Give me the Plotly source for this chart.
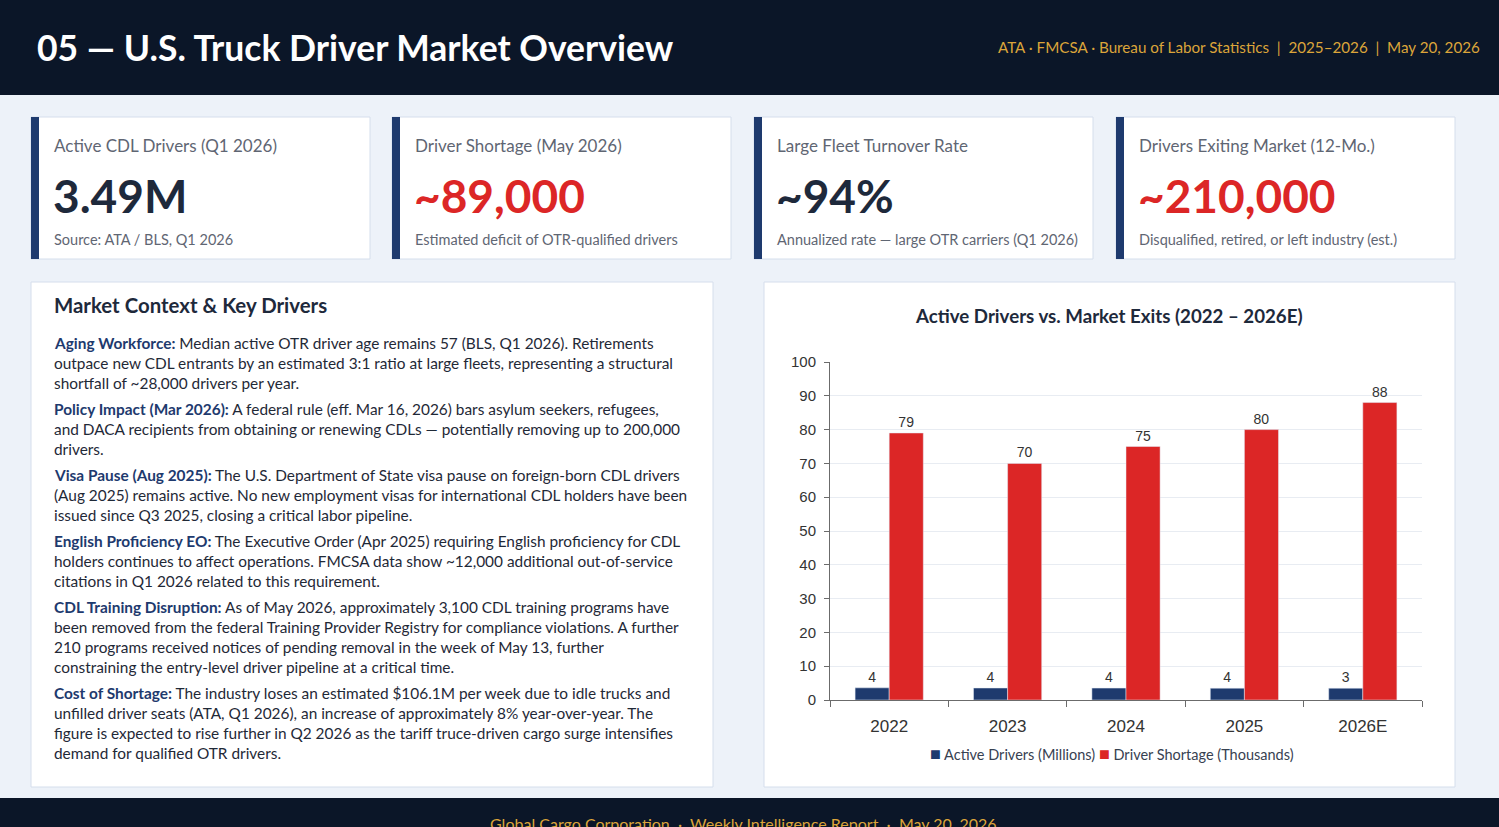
import plotly.graph_objects as go

W, H = 1499, 827

# ---- data -------------------------------------------------------------
years = ["2022", "2023", "2024", "2025", "2026E"]
active_drivers_m = [3.6, 3.55, 3.52, 3.5, 3.49]
driver_shortage_k = [79, 70, 75, 80, 88]
series_names = ["Active Drivers (Millions)", "Driver Shortage (Thousands)"]

kpi_labels = ["Active CDL Drivers (Q1 2026)", "Driver Shortage (May 2026)",
              "Large Fleet Turnover Rate", "Drivers Exiting Market (12-Mo.)"]
kpi_values = ["3.49M", "~89,000", "~94%", "~210,000"]
kpi_notes = ["Source: ATA / BLS, Q1 2026",
             "Estimated deficit of OTR-qualified drivers",
             "Annualized rate — large OTR carriers (Q1 2026)",
             "Disqualified, retired, or left industry (est.)"]

context_items = [
    ("Aging Workforce:", [
        " Median active OTR driver age remains 57 (BLS, Q1 2026). Retirements",
        "outpace new CDL entrants by an estimated 3:1 ratio at large fleets, representing a structural",
        "shortfall of ~28,000 drivers per year."]),
    ("Policy Impact (Mar 2026):", [
        " A federal rule (eff. Mar 16, 2026) bars asylum seekers, refugees,",
        "and DACA recipients from obtaining or renewing CDLs — potentially removing up to 200,000",
        "drivers."]),
    ("Visa Pause (Aug 2025):", [
        " The U.S. Department of State visa pause on foreign-born CDL drivers",
        "(Aug 2025) remains active. No new employment visas for international CDL holders have been",
        "issued since Q3 2025, closing a critical labor pipeline."]),
    ("English Proficiency EO:", [
        " The Executive Order (Apr 2025) requiring English proficiency for CDL",
        "holders continues to affect operations. FMCSA data show ~12,000 additional out-of-service",
        "citations in Q1 2026 related to this requirement."]),
    ("CDL Training Disruption:", [
        " As of May 2026, approximately 3,100 CDL training programs have",
        "been removed from the federal Training Provider Registry for compliance violations. A further",
        "210 programs received notices of pending removal in the week of May 13, further",
        "constraining the entry-level driver pipeline at a critical time."]),
    ("Cost of Shortage:", [
        " The industry loses an estimated $106.1M per week due to idle trucks and",
        "unfilled driver seats (ATA, Q1 2026), an increase of approximately 8% year-over-year. The",
        "figure is expected to rise further in Q2 2026 as the tariff truce-driven cargo surge intensifies",
        "demand for qualified OTR drivers."]),
]

# ---- styles -----------------------------------------------------------
NAVY_BG = "#0b1628"
GOLD = "#dca53a"
PAGE_BG = "#edf2f9"
CARD_LINE = "#d5deec"
ACCENT = "#1e3a6e"
RED = "#dc2626"
INK = "#1e293b"
MUTED = "#5f6673"
kpi_value_colors = [INK, RED, INK, RED]
bar_colors = [ACCENT, RED]


def px(x):
    return x / W


def py(y):
    return 1 - y / H


def rect(x0, y0, x1, y1, fill, line=None):
    return dict(type="rect", xref="paper", yref="paper", layer="below",
                x0=px(x0), x1=px(x1), y0=py(y1), y1=py(y0),
                fillcolor=fill, line=dict(width=1 if line else 0, color=line or fill))


def note(x, y, text, size, color, anchor="left", bold=False, family="Lato"):
    # annotations carry ~2px of border padding; nudge so the glyphs land on x
    nudge = {"left": -2, "right": 2, "center": 0}[anchor]
    return dict(xref="paper", yref="paper", x=px(x + nudge), y=py(y), xanchor=anchor, yanchor="middle",
                text=f"<b>{text}</b>" if bold else text, showarrow=False,
                font=dict(size=size, color=color, family=family))


shapes = []
annotations = []

# header / footer bands
shapes.append(rect(0, 0, W, 95, NAVY_BG))
shapes.append(rect(0, 798, W, H, NAVY_BG))
annotations.append(note(37, 47, "05 — U.S. Truck Driver Market Overview", 35.5, "#ffffff", bold=True))
annotations.append(note(1480, 47, "ATA · FMCSA · Bureau of Labor Statistics  |  2025–2026  |  May 20, 2026",
                        15.2, GOLD, anchor="right"))
annotations.append(dict(xref="paper", yref="paper", x=px(743), y=py(812), xanchor="center", yanchor="top",
                        text="Global Cargo Corporation  ·  Weekly Intelligence Report  ·  May 20, 2026",
                        showarrow=False, font=dict(size=16, color=GOLD, family="Lato")))

# KPI cards
card_left = [31, 392, 754, 1116]
for i, left in enumerate(card_left):
    shapes.append(rect(left, 117, left + 339, 259, "#ffffff", CARD_LINE))
    shapes.append(rect(left, 117, left + 8, 259, ACCENT))
    annotations.append(note(left + 23, 145, kpi_labels[i], 17, MUTED))
    annotations.append(note(left + 22, 195, kpi_values[i], 46, kpi_value_colors[i], bold=True))
    annotations.append(note(left + 23, 240, kpi_notes[i], 14.5, MUTED))

# context panel
shapes.append(rect(31, 282, 713, 787, "#ffffff", CARD_LINE))
annotations.append(note(54, 305, "Market Context & Key Drivers", 20.4, INK, bold=True))
y = 343
for label, lines in context_items:
    for j, line in enumerate(lines):
        txt = (f"<b><span style='color:{ACCENT}'>{label}</span></b>" + line) if j == 0 else line
        annotations.append(note(54, y, txt, 15.4, "#1f2937"))
        y += 20
    y += 6

# chart panel
shapes.append(rect(764, 282, 1455, 787, "#ffffff", CARD_LINE))
annotations.append(note(1109, 316, "Active Drivers vs. Market Exits (2022 – 2026E)", 18.7, INK,
                        anchor="center", bold=True))
legend_text = " ".join(f"<span style='color:{c};font-size:18px'>■</span> {n}"
                       for c, n in zip(bar_colors, series_names))
annotations.append(note(1112, 753, legend_text, 14.5, "#374151", anchor="center"))

fig = go.Figure()
for name, vals, color in zip(series_names, [active_drivers_m, driver_shortage_k], bar_colors):
    fig.add_trace(go.Bar(x=years, y=vals, name=name, marker_color=color,
                         texttemplate="%{y:.0f}", textposition="outside",
                         textfont=dict(size=14, color="#333333", family="Liberation Sans"),
                         cliponaxis=False))

fig.update_layout(
    width=W, height=H,
    margin=dict(l=0, r=0, t=0, b=0, pad=0, autoexpand=False),
    paper_bgcolor=PAGE_BG,
    plot_bgcolor="#ffffff",
    font=dict(family="Lato", color=INK),
    barmode="group",
    bargap=0.424,
    bargroupgap=0,
    shapes=shapes,
    annotations=annotations,
    showlegend=False,
)
fig.update_xaxes(domain=[px(830), px(1422)], showline=True, linecolor="#6b6b6b", linewidth=1,
                 ticks="outside", tickson="boundaries", ticklen=6, tickcolor="#6b6b6b",
                 ticklabelstandoff=11, automargin=False,
                 tickfont=dict(size=17, color="#333333", family="Liberation Sans"),
                 showgrid=False)
fig.update_yaxes(domain=[py(700), py(362)], range=[0, 100], dtick=10, showline=True,
                 linecolor="#6b6b6b", linewidth=1, ticks="outside", ticklen=5, tickcolor="#6b6b6b",
                 ticklabelstandoff=5, automargin=False,
                 gridcolor="#e8ecf2", zeroline=False,
                 tickfont=dict(size=15, color="#333333", family="Liberation Sans"))

pin_page = ("document.body.style.margin='0px';document.body.style.overflow='hidden';"
            "var d=document.getElementById('{plot_id}');"
            "d.style.position='fixed';d.style.top='0px';d.style.left='0px';")
fig.write_html("out.html", config={"displayModeBar": False}, post_script=pin_page)
